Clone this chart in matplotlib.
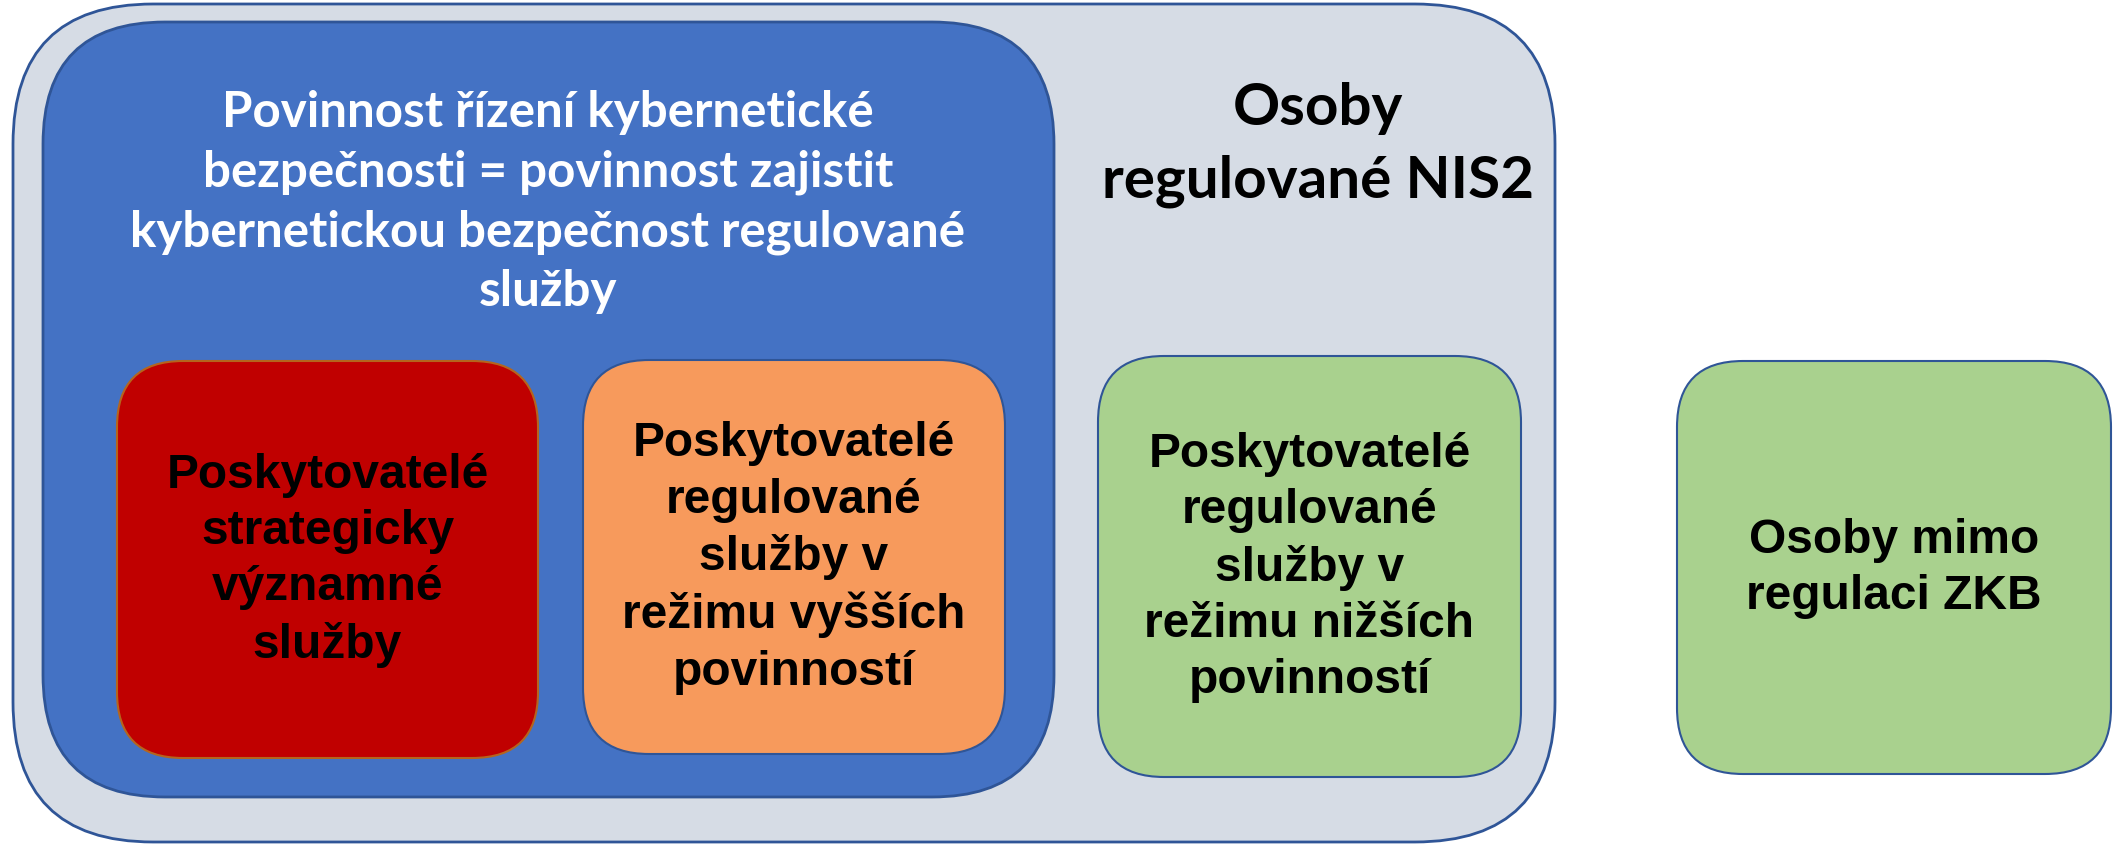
import matplotlib.pyplot as plt
from matplotlib.patches import FancyBboxPatch

# --- texty diagramu ---
outer_label = "Osoby\nregulované NIS2"
duty_label = ("Povinnost řízení kybernetické\n"
              "bezpečnosti = povinnost zajistit\n"
              "kybernetickou bezpečnost regulované\n"
              "služby")
box_labels = [
    "Poskytovatelé\nstrategicky\nvýznamné\nslužby",
    "Poskytovatelé\nregulované\nslužby v\nrežimu vyšších\npovinností",
    "Poskytovatelé\nregulované\nslužby v\nrežimu nižších\npovinností",
    "Osoby mimo\nregulaci ZKB",
]

# --- geometrie v pixelech (x0, y0, x1, y1, radius) ---
outer_geom = (13, 5, 1555, 843, 140)
duty_geom = (43, 23, 1054, 798, 122)
box_geom = [
    (117, 362, 538, 759, 66),
    (583, 361, 1005, 755, 66),
    (1098, 357, 1521, 778, 66),
    (1677, 362, 2111, 775, 66),
]
box_colors = ["#C00000", "#F79A5C", "#A9D18E", "#A9D18E"]
box_edges = ["#B5651D", "#2F5597", "#2F5597", "#2F5597"]

W, H = 2113, 845
fig = plt.figure(figsize=(W / 100, H / 100), dpi=100)
ax = fig.add_axes([0, 0, 1, 1])
ax.set_xlim(0, W)
ax.set_ylim(H, 0)
ax.axis('off')


def rbox(geom, face, edge, lw=2):
    x0, y0, x1, y1, r = geom
    p = FancyBboxPatch((x0, y0), x1 - x0, y1 - y0,
                       boxstyle=f"round,pad=0,rounding_size={r}",
                       facecolor=face, edgecolor=edge, linewidth=lw)
    ax.add_patch(p)


rbox(outer_geom, "#D6DCE5", "#2F5597", 2)
rbox(duty_geom, "#4472C4", "#2F5597", 2)
for g, c, e in zip(box_geom, box_colors, box_edges):
    rbox(g, c, e, 1.5)

# popisky
ax.text(1318, 145, outer_label, ha='center', va='center', fontsize=42,
        fontweight='bold', family='Lato', color='black', linespacing=1.45)
ax.text(548, 202, duty_label, ha='center', va='center', fontsize=35.5,
        fontweight='bold', family='Lato', color='white', linespacing=1.38)

for g, lab in zip(box_geom, box_labels):
    x0, y0, x1, y1, r = g
    ax.text((x0 + x1) / 2, (y0 + y1) / 2, lab, ha='center', va='center',
            fontsize=34.5, fontweight='bold', family='Liberation Sans',
            color='black', linespacing=1.32)

plt.savefig('out.png', dpi=100)
